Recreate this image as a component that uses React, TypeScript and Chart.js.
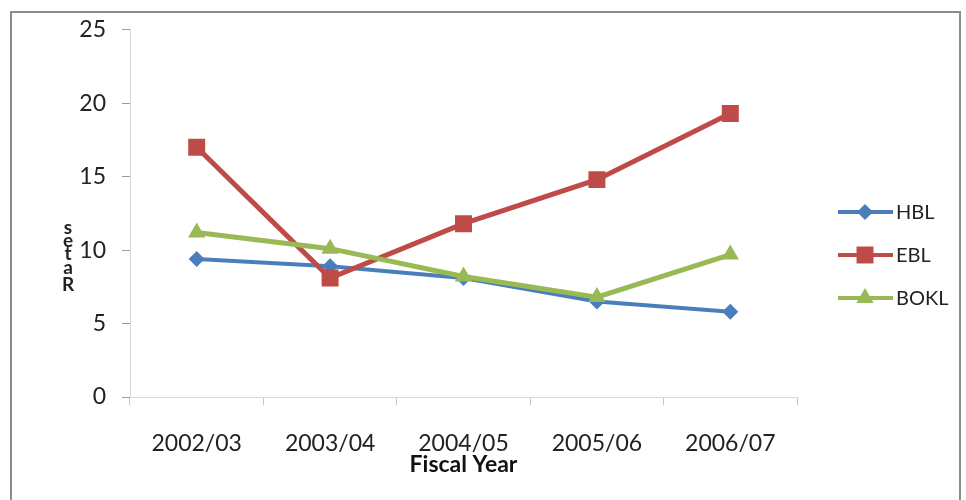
import React, { useEffect, useRef } from "react";
import { Chart, registerables } from "chart.js";

Chart.register(...registerables);

const categories = ["2002/03", "2003/04", "2004/05", "2005/06", "2006/07"];
const seriesNames = ["HBL", "EBL", "BOKL"];
const hbl = [9.4, 8.9, 8.1, 6.5, 5.8];
const ebl = [17.0, 8.1, 11.8, 14.8, 19.3];
const bokl = [11.2, 10.1, 8.2, 6.8, 9.7];
const yTicks = [0, 5, 10, 15, 20, 25];
const yTitle = "Rates";
const xTitle = "Fiscal Year";

const colors = ["#4a7ebb", "#be4b48", "#98b954"];
const pointStyles = ["rectRot", "rect", "triangle"];
const FONT = "Lato, 'Open Sans', sans-serif";

function drawMarker(ctx: CanvasRenderingContext2D, style: string, x: number, y: number, r: number) {
  ctx.beginPath();
  if (style === "rectRot") {
    ctx.moveTo(x, y - r);
    ctx.lineTo(x + r, y);
    ctx.lineTo(x, y + r);
    ctx.lineTo(x - r, y);
  } else if (style === "rect") {
    const s = r * Math.SQRT1_2;
    ctx.rect(x - s, y - s, 2 * s, 2 * s);
  } else {
    ctx.moveTo(x, y - r);
    ctx.lineTo(x + r * 0.866, y + r * 0.5);
    ctx.lineTo(x - r * 0.866, y + r * 0.5);
  }
  ctx.closePath();
  ctx.fill();
}

const customPlugin = {
  id: "customDecor",
  afterDraw(chart: any) {
    const ctx: CanvasRenderingContext2D = chart.ctx;
    ctx.save();
    // legend
    const radii = [8, 12, 10];
    chart.data.datasets.forEach((ds: any, i: number) => {
      const y = 212 + 43 * i;
      ctx.strokeStyle = ds.borderColor;
      ctx.lineWidth = 4;
      ctx.beginPath();
      ctx.moveTo(838, y);
      ctx.lineTo(893, y);
      ctx.stroke();
      ctx.fillStyle = ds.borderColor;
      drawMarker(ctx, pointStyles[i], 865, y, radii[i]);
      ctx.fillStyle = "#222";
      ctx.font = `20px ${FONT}`;
      ctx.textAlign = "left";
      ctx.textBaseline = "middle";
      ctx.fillText(ds.label, 896, y + 1);
    });
    // y title: letters stacked upright
    ctx.fillStyle = "#222";
    ctx.font = `bold 19px ${FONT}`;
    ctx.textAlign = "center";
    ctx.textBaseline = "middle";
    const letters = yTitle.split("");
    const offsets = [285, 268, 254, 241, 228];
    letters.forEach((ch, i) => {
      ctx.fillText(ch, 68, offsets[i]);
    });
    ctx.restore();
  },
};

export default function App() {
  const ref = useRef<HTMLCanvasElement>(null);
  useEffect(() => {
    if (!ref.current) return;
    const chart = new Chart(ref.current, {
      type: "line",
      data: {
        labels: categories,
        datasets: [
          {
            label: seriesNames[0],
            data: hbl,
            borderColor: colors[0],
            backgroundColor: colors[0],
            borderWidth: 4,
            pointStyle: "rectRot",
            pointRadius: 8,
            pointBorderWidth: 0,
            order: 3,
          },
          {
            label: seriesNames[1],
            data: ebl,
            borderColor: colors[1],
            backgroundColor: colors[1],
            borderWidth: 5,
            pointStyle: "rect",
            pointRadius: 12,
            pointBorderWidth: 0,
            order: 2,
          },
          {
            label: seriesNames[2],
            data: bokl,
            borderColor: colors[2],
            backgroundColor: colors[2],
            borderWidth: 5,
            pointStyle: "triangle",
            pointRadius: 10,
            pointBorderWidth: 0,
            order: 1,
          },
        ],
      },
      options: {
        animation: false,
        responsive: false,
        layout: { padding: { left: 0, right: 169, top: 27, bottom: 0 } },
        plugins: { legend: { display: false }, tooltip: { enabled: false } },
        scales: {
          x: {
            type: "category",
            offset: true,
            grid: {
              display: true,
              drawOnChartArea: false,
              tickLength: 8,
              color: "#c8c8c8",
              offset: true,
            },
            border: { color: "#d9d9d9", width: 1 },
            ticks: {
              color: "#222",
              font: { family: FONT, size: 23 },
              padding: 25,
              maxRotation: 0,
            },
            title: {
              display: true,
              text: xTitle,
              color: "#111",
              font: { family: FONT, size: 23, weight: "bold" },
              padding: { top: 0, bottom: 22 },
            },
            afterFit: (s: any) => {
              s.height = 103;
            },
          },
          y: {
            min: 0,
            max: 25,
            afterBuildTicks: (s: any) => {
              s.ticks = yTicks.map((v) => ({ value: v }));
            },
            grid: {
              display: true,
              drawOnChartArea: false,
              tickLength: 8,
              color: "#9a9a9a",
            },
            border: { color: "#d9d9d9", width: 1 },
            ticks: {
              color: "#222",
              font: { family: FONT, size: 23 },
              padding: 16,
            },
            afterFit: (s: any) => {
              s.width = 130;
            },
          },
        },
      },
      plugins: [customPlugin],
    });
    return () => chart.destroy();
  }, []);
  return (
    <div style={{ position: "fixed", left: 0, top: 0, width: 966, height: 500, background: "#fff", overflow: "hidden" }}>
      <div
        style={{
          position: "absolute",
          left: 10,
          top: 11,
          width: 951,
          height: 520,
          border: "2px solid #8c8c8c",
          boxSizing: "border-box",
        }}
      />
      <canvas ref={ref} width={966} height={500} style={{ position: "absolute", left: 0, top: 0, display: "block" }} />
    </div>
  );
}
